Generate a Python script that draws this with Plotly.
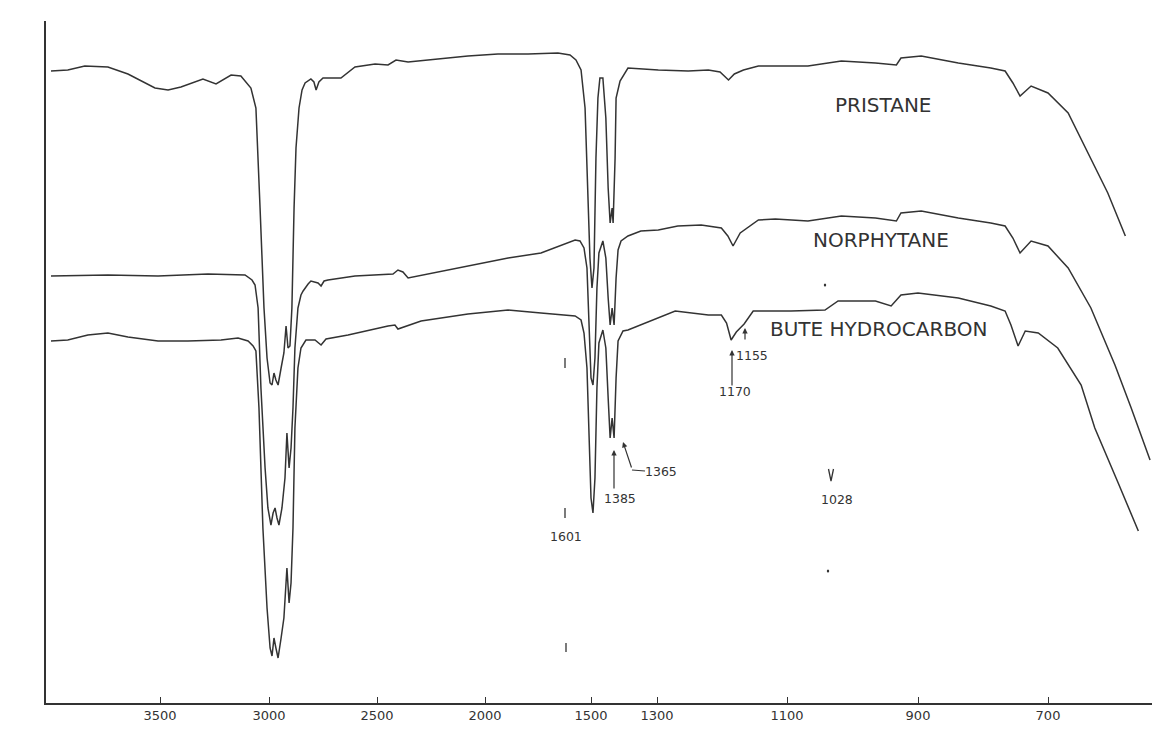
import numpy as np
import plotly.graph_objects as go

# ---- frequency axis of the chart (non-linear: scale change at low wavenumbers)
TICK_FREQ = [3500, 3000, 2500, 2000, 1500, 1300, 1100, 900, 700]
TICK_TEXT = [str(v) for v in TICK_FREQ]
AXIS_UNITS = [152, 261, 369, 477, 583, 649, 779, 910, 1040]  # chart scale units at each tick


def to_axis(freq):
    f = np.asarray(freq, dtype=float)
    out = np.interp(-f, -np.array(TICK_FREQ, float), np.array(AXIS_UNITS, float))
    hi = f > TICK_FREQ[0]
    lo = f < TICK_FREQ[-1]
    out[hi] = AXIS_UNITS[0] - (f[hi] - TICK_FREQ[0]) * 0.218
    out[lo] = AXIS_UNITS[-1] + (TICK_FREQ[-1] - f[lo]) * 0.65
    return out


# ---- spectra (absorbance deflection, arbitrary chart units, larger = further down)
P_FREQ = [4000, 3923, 3845, 3739, 3647, 3523, 3463, 3404, 3303, 3243, 3174, 3129, 3083, 3060, 3041, 3023,
          3009, 2995, 2986, 2977, 2968, 2958, 2944, 2931, 2921, 2912, 2903, 2894, 2884, 2875, 2861, 2847,
          2833, 2806, 2792, 2782, 2769, 2750, 2667, 2602, 2509, 2449, 2412, 2356, 2218, 2079, 1939, 1797,
          1656, 1599, 1571, 1547, 1528, 1514, 1505, 1497, 1491, 1485, 1479, 1473, 1464, 1455, 1448, 1442,
          1436, 1433, 1427, 1424, 1418, 1412, 1388, 1298, 1252, 1221, 1203, 1190, 1181, 1167, 1144, 1068,
          1017, 965, 933, 926, 895, 838, 788, 766, 754, 743, 726, 700, 669, 634, 608, 581]
P_ABS = [63, 62, 58, 59, 66, 80, 82, 79, 71, 76, 67, 68, 80, 100, 200, 300,
         350, 375, 377, 365, 372, 377, 360, 345, 318, 340, 338, 300, 200, 140, 100, 82,
         75, 71, 74, 82, 74, 70, 70, 59, 56, 57, 52, 54, 51, 48, 46, 46,
         45, 47, 52, 62, 100, 180, 250, 280, 260, 150, 90, 70, 70, 110, 180, 215,
         200, 215, 150, 90, 80, 73, 60, 62, 63, 62, 64, 72, 66, 62, 58, 58,
         53, 55, 57, 50, 48, 55, 60, 63, 75, 88, 78, 85, 105, 150, 185, 228]

N_FREQ = [4000, 3739, 3509, 3280, 3110, 3078, 3064, 3050, 3037, 3018, 3005, 2991, 2981, 2972, 2963, 2954,
          2940, 2926, 2917, 2907, 2898, 2889, 2880, 2866, 2852, 2842, 2819, 2806, 2773, 2759, 2745, 2727,
          2602, 2426, 2403, 2380, 2356, 2218, 2079, 1891, 1736, 1632, 1575, 1552, 1533, 1519, 1509, 1500,
          1494, 1488, 1482, 1476, 1464, 1455, 1448, 1442, 1436, 1430, 1424, 1418, 1409, 1388, 1349, 1298,
          1268, 1232, 1201, 1191, 1183, 1172, 1144, 1118, 1068, 1017, 965, 933, 926, 895, 838, 788,
          766, 754, 743, 726, 700, 669, 634, 597, 572, 543]
N_ABS = [268, 267, 268, 266, 267, 272, 277, 300, 380, 460, 500, 517, 505, 500, 510, 517,
         500, 470, 425, 460, 440, 400, 340, 300, 287, 283, 276, 273, 275, 278, 273, 272,
         268, 266, 262, 264, 270, 264, 258, 250, 245, 237, 232, 233, 240, 260, 320, 370,
         377, 350, 280, 245, 233, 250, 290, 317, 300, 317, 270, 242, 233, 228, 223, 222,
         218, 217, 220, 228, 238, 225, 212, 211, 213, 208, 210, 213, 205, 203, 210, 215,
         218, 230, 245, 233, 238, 260, 300, 357, 400, 452]

B_FREQ = [4000, 3923, 3831, 3739, 3647, 3509, 3372, 3220, 3142, 3096, 3073, 3060, 3046, 3028, 3009, 2995,
          2986, 2977, 2968, 2958, 2944, 2931, 2917, 2907, 2898, 2889, 2880, 2866, 2852, 2829, 2787, 2759,
          2736, 2713, 2634, 2449, 2417, 2403, 2296, 2079, 1891, 1736, 1575, 1547, 1533, 1519, 1509, 1500,
          1494, 1488, 1482, 1476, 1464, 1455, 1448, 1442, 1436, 1430, 1424, 1418, 1403, 1388, 1272, 1221,
          1201, 1193, 1186, 1178, 1172, 1166, 1152, 1094, 1042, 1022, 965, 941, 926, 900, 838, 788,
          766, 757, 746, 735, 715, 685, 649, 628, 592, 561]
B_ABS = [333, 332, 327, 325, 329, 333, 333, 332, 330, 333, 338, 343, 400, 520, 600, 640,
         648, 630, 640, 650, 630, 610, 560, 595, 575, 520, 420, 360, 340, 332, 332, 337,
         331, 330, 327, 318, 317, 321, 313, 306, 302, 305, 308, 312, 325, 360, 430, 490,
         505, 470, 380, 335, 322, 340, 390, 430, 410, 430, 370, 333, 323, 322, 303, 307,
         307, 315, 332, 324, 320, 316, 303, 303, 302, 293, 293, 298, 287, 285, 290, 298,
         303, 317, 338, 323, 325, 340, 377, 420, 475, 523]

SERIES = [("PRISTANE", P_FREQ, P_ABS), ("NORPHYTANE", N_FREQ, N_ABS), ("BUTE HYDROCARBON", B_FREQ, B_ABS)]

INK = "#333333"
FONT = "DejaVu Sans"

fig = go.Figure()
for name, fr, ab in SERIES:
    fig.add_trace(go.Scatter(x=to_axis(fr), y=ab, mode="lines", name=name,
                             line=dict(color=INK, width=1.5), showlegend=False,
                             hoverinfo="skip"))

ann = []
ann.append(dict(x=875, y=97, text="PRISTANE", font=dict(size=20)))
ann.append(dict(x=873, y=232, text="NORPHYTANE", font=dict(size=20)))
ann.append(dict(x=870, y=321, text="BUTE HYDROCARBON", font=dict(size=20)))
for txt, x, y in [("1170", 727, 383), ("1155", 744, 347), ("1385", 612, 490),
                  ("1365", 653, 463), ("1601", 558, 528), ("1028", 829, 491)]:
    ann.append(dict(x=x, y=y, text=txt, font=dict(size=12.5)))
ann.append(dict(x=585, y=739, text="FREQUENCY  (cm.<sup>-1</sup>)", font=dict(size=22)))
ann.append(dict(x=16, y=385, text="<b>ABSORBANCE</b>", textangle=-90, font=dict(size=16)))
for a in ann:
    a.update(xref="x", yref="y", showarrow=False)
    a["font"].update(family=FONT, color=INK)

for (hx, hy, tx, ty) in [(724, 342, 724, 379), (737, 320, 737, 333), (606, 442, 606, 482), (615, 434, 624, 461)]:
    ann.append(dict(x=hx, y=hy, ax=tx, ay=ty, xref="x", yref="y", axref="x", ayref="y",
                    text="", showarrow=True, arrowhead=2, arrowsize=0.9, arrowwidth=1.2,
                    arrowcolor=INK))

shapes = [
    dict(type="line", x0=624, y0=462, x1=637, y1=463, line=dict(color=INK, width=1.2)),
    dict(type="path", path="M 820.5 461 L 823 473 L 825.5 461", line=dict(color=INK, width=1.3)),
]
for (x, y0, y1) in [(557, 350, 360), (557, 500, 510), (558, 635, 644)]:
    shapes.append(dict(type="line", x0=x, y0=y0, x1=x, y1=y1, line=dict(color=INK, width=1.3)))
for (x, y) in [(817, 277), (820, 563)]:
    shapes.append(dict(type="circle", x0=x - 1.2, y0=y - 1.5, x1=x + 1.2, y1=y + 1.5,
                       fillcolor=INK, line=dict(width=0)))
for s in shapes:
    s.update(xref="x", yref="y")

fig.update_layout(
    width=1160, height=754,
    margin=dict(l=38, r=0, t=13, b=59),
    paper_bgcolor="white", plot_bgcolor="white",
    annotations=ann, shapes=shapes,
    xaxis=dict(range=[38, 1160], tickvals=to_axis(TICK_FREQ), ticktext=TICK_TEXT,
               ticks="inside", ticklen=6, tickwidth=1.2, tickcolor=INK,
               showline=True, linecolor=INK, linewidth=1.5, showgrid=False, zeroline=False,
               tickfont=dict(family=FONT, size=13, color=INK)),
    yaxis=dict(range=[695, 13], showline=True, linecolor=INK, linewidth=1.5,
               showticklabels=False, ticks="", showgrid=False, zeroline=False),
)

fig.write_html("out.html")
